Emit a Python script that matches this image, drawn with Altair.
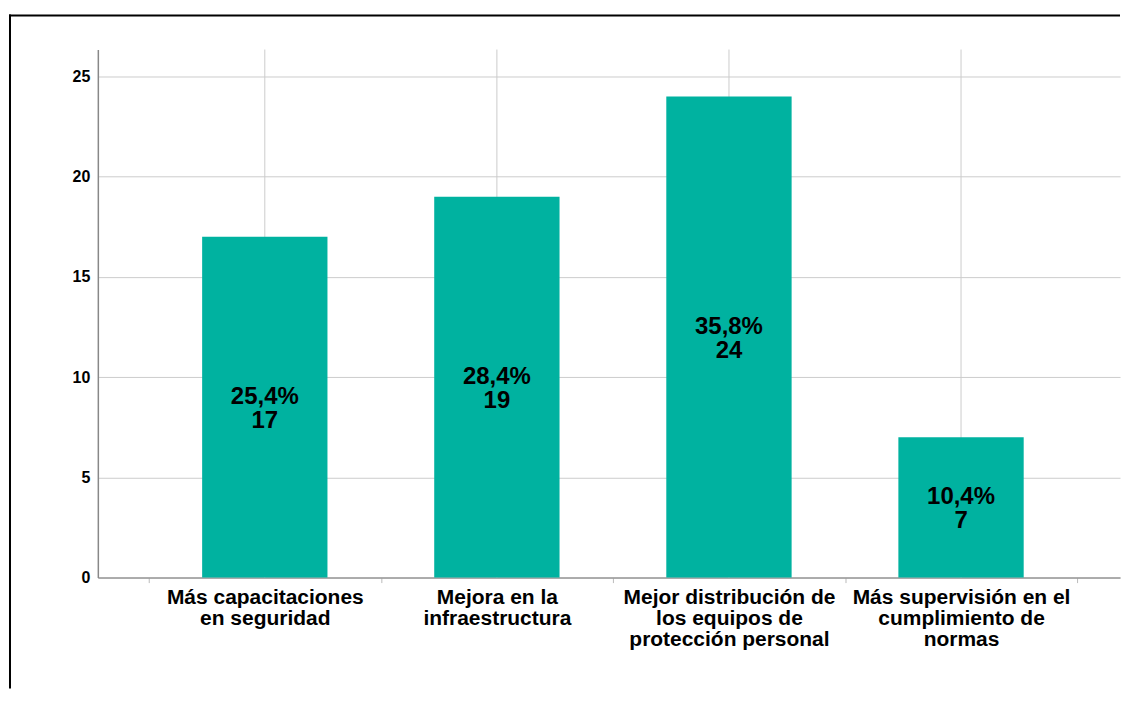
import altair as alt
import pandas as pd

categories = [
    "Más capacitaciones\nen seguridad",
    "Mejora en la\ninfraestructura",
    "Mejor distribución de\nlos equipos de\nprotección personal",
    "Más supervisión en el\ncumplimiento de\nnormas",
]
counts = [17, 19, 24, 7]
percents = ["25,4%", "28,4%", "35,8%", "10,4%"]
y_ticks = [0, 5, 10, 15, 20, 25]

df = pd.DataFrame({
    "cat": categories,
    "count": counts,
    "pct": percents,
})
df["label"] = [p + "\n" + str(c) for p, c in zip(percents, counts)]

FONT = "Liberation Sans"
TEAL = "#00B2A0"

x_scale = alt.Scale(paddingInner=0, paddingOuter=0.2022, align=0.5426)

x_enc = alt.X(
    "cat:N",
    sort=None,
    title=None,
    scale=x_scale,
    axis=alt.Axis(
        tickBand="extent",
        grid=False,
        ticks=True,
        tickSize=5,
        tickColor="#bbbbbb",
        domainColor="#999999",
        domainWidth=1.5,
        labelExpr="split(datum.label, '\\n')",
        labelFont=FONT,
        labelFontSize=21,
        labelFontWeight="bold",
        labelColor="#000000",
        labelLineHeight=21,
        labelPadding=4,
        labelBaseline="top",
        labelAlign="center",
        labelAngle=0,
        labelLimit=400,
    ),
)

y_enc = alt.Y(
    "count:Q",
    title=None,
    scale=alt.Scale(domain=[0, 26.34], nice=False, zero=True),
    axis=alt.Axis(
        values=y_ticks,
        grid=True,
        gridColor="#cccccc",
        gridWidth=1,
        ticks=False,
        tickSize=0,
        domainColor="#888888",
        domainWidth=1.5,
        labelFont=FONT,
        labelFontSize=16,
        labelFontWeight="bold",
        labelColor="#000000",
        labelPadding=8,
    ),
)

base = alt.Chart(df)

vgrid = base.mark_rule(color="#cccccc", strokeWidth=1).encode(
    x=alt.X("cat:N", sort=None)
)

bars = base.mark_bar(color=TEAL, width=alt.RelativeBandSize(0.54)).encode(
    x=x_enc,
    y=y_enc,
)

texts = base.transform_calculate(half="datum['count'] / 2").mark_text(
    font=FONT,
    fontSize=24,
    fontWeight="bold",
    color="#000000",
    lineBreak="\n",
    lineHeight=24,
    baseline="middle",
    align="center",
    dy=-10,
).encode(
    x=alt.X("cat:N", sort=None),
    y=alt.Y("half:Q"),
    text="label:N",
)

frame_data = alt.Data(values=[{"k": 1}])
frame_top = alt.Chart(frame_data).mark_rule(color="#000000", strokeWidth=2).encode(
    x=alt.value(-89), x2=alt.value(1024), y=alt.value(-34)
)
frame_left = alt.Chart(frame_data).mark_rule(color="#000000", strokeWidth=2).encode(
    x=alt.value(-88), y=alt.value(-35), y2=alt.value(640)
)

chart = alt.layer(vgrid, bars, texts, frame_top, frame_left).properties(
    width=1024,
    height=529,
    padding={"left": 0, "top": 5, "right": 0, "bottom": 0},
    background="#ffffff",
).configure_view(strokeWidth=0)

chart.save("out.html", embed_options={"renderer": "svg", "actions": False})
